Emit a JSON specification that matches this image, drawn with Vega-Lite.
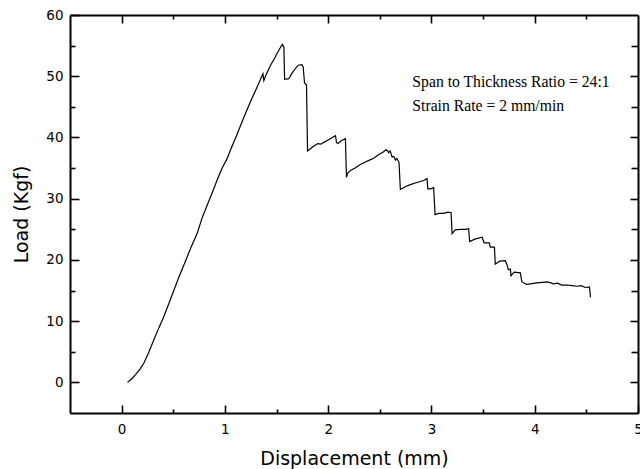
{
  "$schema": "https://vega.github.io/schema/vega-lite/v6.json",
  "width": 568,
  "height": 398,
  "autosize": {"type": "none"},
  "padding": {"left": 70, "top": 15, "right": 2, "bottom": 56},
  "config": {
    "view": {"stroke": null},
    "axis": {
      "grid": false,
      "domainColor": "black",
      "domainWidth": 2,
      "tickColor": "black",
      "tickWidth": 1.6,
      "labelColor": "black",
      "labelFont": "DejaVu Sans",
      "labelFontSize": 13.5,
      "titleColor": "black",
      "titleFont": "DejaVu Sans",
      "titleFontSize": 19,
      "titleFontWeight": "normal"
    }
  },
  "data": {
    "values": [
      {"d": 0.056, "load": 0.0}, {"d": 0.10, "load": 0.6}, {"d": 0.136, "load": 1.3}, {"d": 0.18, "load": 2.2},
      {"d": 0.217, "load": 3.2}, {"d": 0.26, "load": 4.8}, {"d": 0.313, "load": 7.0}, {"d": 0.36, "load": 8.9},
      {"d": 0.41, "load": 10.8}, {"d": 0.46, "load": 13.0}, {"d": 0.507, "load": 15.1}, {"d": 0.55, "load": 17.0},
      {"d": 0.604, "load": 19.2}, {"d": 0.67, "load": 22.0}, {"d": 0.733, "load": 24.4}, {"d": 0.78, "load": 26.9},
      {"d": 0.83, "load": 29.0}, {"d": 0.88, "load": 31.1}, {"d": 0.926, "load": 33.1}, {"d": 0.97, "load": 34.9},
      {"d": 1.02, "load": 36.5}, {"d": 1.055, "load": 38.0}, {"d": 1.12, "load": 40.6}, {"d": 1.184, "load": 43.3},
      {"d": 1.249, "load": 45.9}, {"d": 1.30, "load": 47.8}, {"d": 1.345, "load": 49.5}, {"d": 1.368, "load": 50.4},
      {"d": 1.377, "load": 49.3}, {"d": 1.40, "load": 50.3}, {"d": 1.442, "load": 51.8}, {"d": 1.48, "load": 52.9},
      {"d": 1.507, "load": 53.8}, {"d": 1.535, "load": 54.6}, {"d": 1.555, "load": 55.2}, {"d": 1.571, "load": 54.8},
      {"d": 1.578, "load": 49.5}, {"d": 1.619, "load": 49.6}, {"d": 1.65, "load": 50.5}, {"d": 1.684, "load": 51.3},
      {"d": 1.71, "load": 51.8}, {"d": 1.745, "load": 51.9}, {"d": 1.758, "load": 51.5}, {"d": 1.771, "load": 48.9},
      {"d": 1.79, "load": 48.6}, {"d": 1.80, "load": 37.8}, {"d": 1.845, "load": 38.4}, {"d": 1.87, "load": 38.7},
      {"d": 1.899, "load": 39.0}, {"d": 1.93, "load": 38.9}, {"d": 1.958, "load": 39.2}, {"d": 2.0, "load": 39.6},
      {"d": 2.04, "load": 40.0}, {"d": 2.071, "load": 40.3}, {"d": 2.08, "load": 39.2}, {"d": 2.093, "load": 39.0},
      {"d": 2.13, "load": 39.5}, {"d": 2.167, "load": 39.8}, {"d": 2.177, "load": 33.5}, {"d": 2.19, "load": 34.2},
      {"d": 2.216, "load": 34.6}, {"d": 2.26, "load": 35.0}, {"d": 2.312, "load": 35.6}, {"d": 2.36, "load": 36.0},
      {"d": 2.40, "load": 36.3}, {"d": 2.441, "load": 36.6}, {"d": 2.49, "load": 37.2}, {"d": 2.53, "load": 37.6},
      {"d": 2.56, "load": 38.0}, {"d": 2.575, "load": 37.8}, {"d": 2.586, "load": 37.5}, {"d": 2.60, "load": 37.8},
      {"d": 2.619, "load": 36.8}, {"d": 2.635, "load": 36.9}, {"d": 2.651, "load": 36.3}, {"d": 2.665, "load": 36.6},
      {"d": 2.686, "load": 35.9}, {"d": 2.699, "load": 31.5}, {"d": 2.75, "load": 32.0}, {"d": 2.796, "load": 32.3},
      {"d": 2.85, "load": 32.6}, {"d": 2.893, "load": 32.8}, {"d": 2.93, "load": 33.0}, {"d": 2.957, "load": 33.3},
      {"d": 2.965, "load": 31.6}, {"d": 2.99, "load": 31.6}, {"d": 3.021, "load": 31.8}, {"d": 3.035, "load": 27.4},
      {"d": 3.07, "load": 27.6}, {"d": 3.12, "load": 27.6}, {"d": 3.16, "load": 27.8}, {"d": 3.19, "load": 27.7},
      {"d": 3.20, "load": 24.3}, {"d": 3.23, "load": 24.9}, {"d": 3.28, "load": 25.0}, {"d": 3.33, "load": 25.0},
      {"d": 3.36, "load": 25.1}, {"d": 3.37, "load": 23.0}, {"d": 3.42, "load": 23.4}, {"d": 3.49, "load": 23.7},
      {"d": 3.51, "load": 22.8}, {"d": 3.56, "load": 22.8}, {"d": 3.57, "load": 22.1}, {"d": 3.61, "load": 22.1},
      {"d": 3.618, "load": 19.3}, {"d": 3.66, "load": 19.8}, {"d": 3.715, "load": 19.9}, {"d": 3.73, "load": 19.3},
      {"d": 3.745, "load": 18.4}, {"d": 3.765, "load": 18.5}, {"d": 3.77, "load": 17.4}, {"d": 3.80, "load": 18.0},
      {"d": 3.86, "load": 17.9}, {"d": 3.876, "load": 16.4}, {"d": 3.92, "load": 16.0}, {"d": 3.96, "load": 16.1},
      {"d": 4.0, "load": 16.2}, {"d": 4.05, "load": 16.3}, {"d": 4.118, "load": 16.4}, {"d": 4.15, "load": 16.3},
      {"d": 4.18, "load": 16.1}, {"d": 4.22, "load": 16.2}, {"d": 4.26, "load": 15.9}, {"d": 4.31, "load": 15.9},
      {"d": 4.36, "load": 15.8}, {"d": 4.41, "load": 15.7}, {"d": 4.45, "load": 15.8}, {"d": 4.49, "load": 15.5},
      {"d": 4.53, "load": 15.6}, {"d": 4.54, "load": 13.9}
    ]
  },
  "resolve": {"axis": {"x": "independent", "y": "independent"}},
  "layer": [
    {
      "mark": {"type": "line", "color": "black", "strokeWidth": 1.2},
      "encoding": {
        "x": {"field": "d", "type": "quantitative", "scale": {"domain": [-0.5, 5], "nice": false, "zero": false},
              "axis": {"orient": "bottom", "values": [0, 1, 2, 3, 4, 5], "tickSize": -8, "labelPadding": 17, "title": "Displacement (mm)", "titlePadding": 14, "labelFlush": false}},
        "y": {"field": "load", "type": "quantitative", "scale": {"domain": [-5, 60], "nice": false, "zero": false},
              "axis": {"orient": "left", "values": [0, 10, 20, 30, 40, 50, 60], "tickSize": -9, "labelPadding": 16, "title": "Load (Kgf)", "titlePadding": 14, "labelFlush": false}}
      }
    },
    {
      "mark": {"type": "line", "strokeOpacity": 0},
      "encoding": {
        "x": {"field": "d", "type": "quantitative", "axis": {"orient": "bottom", "values": [0.5, 1.5, 2.5, 3.5, 4.5], "tickSize": -4, "labels": false, "domain": false, "title": null}},
        "y": {"field": "load", "type": "quantitative", "axis": {"orient": "left", "values": [5, 15, 25, 35, 45, 55], "tickSize": -5, "labels": false, "domain": false, "title": null}}
      }
    },
    {
      "mark": {"type": "line", "strokeOpacity": 0},
      "encoding": {
        "x": {"field": "d", "type": "quantitative", "axis": {"orient": "top", "values": [0, 1, 2, 3, 4], "tickSize": -8, "labels": false, "title": null}},
        "y": {"field": "load", "type": "quantitative", "axis": {"orient": "right", "values": [0, 10, 20, 30, 40, 50], "tickSize": -8, "labels": false, "title": null}}
      }
    },
    {
      "mark": {"type": "line", "strokeOpacity": 0},
      "encoding": {
        "x": {"field": "d", "type": "quantitative", "axis": {"orient": "top", "values": [0.5, 1.5, 2.5, 3.5, 4.5], "tickSize": -4, "labels": false, "domain": false, "title": null}},
        "y": {"field": "load", "type": "quantitative", "axis": {"orient": "right", "values": [5, 15, 25, 35, 45, 55], "tickSize": -7, "labels": false, "domain": false, "title": null}}
      }
    },
    {
      "data": {"values": [{"label": "Span to Thickness Ratio = 24:1"}]},
      "mark": {"type": "text", "font": "Liberation Serif", "fontSize": 15.7, "align": "left", "baseline": "alphabetic", "color": "black"},
      "encoding": {
        "x": {"datum": 2.815, "type": "quantitative", "axis": null},
        "y": {"datum": 48.2, "type": "quantitative", "axis": null},
        "text": {"field": "label"}
      }
    },
    {
      "data": {"values": [{"label": "Strain Rate = 2 mm/min"}]},
      "mark": {"type": "text", "font": "Liberation Serif", "fontSize": 15.7, "align": "left", "baseline": "alphabetic", "color": "black"},
      "encoding": {
        "x": {"datum": 2.815, "type": "quantitative", "axis": null},
        "y": {"datum": 44.3, "type": "quantitative", "axis": null},
        "text": {"field": "label"}
      }
    }
  ]
}
